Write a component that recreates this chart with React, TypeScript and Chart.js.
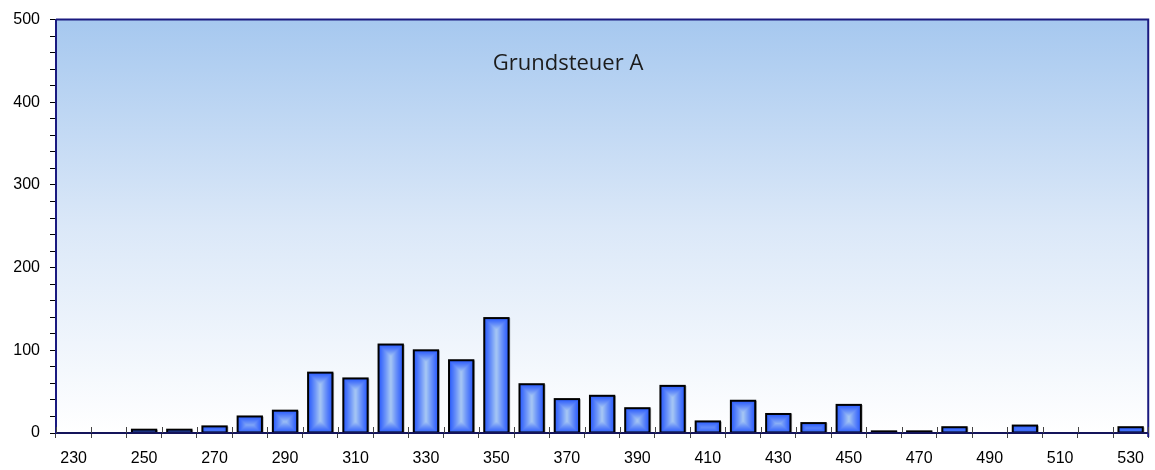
import React, { useEffect, useRef } from "react";
import { Chart, registerables } from "chart.js";

Chart.register(...registerables);

const categories = [
  "230", "240", "250", "260", "270", "280", "290", "300", "310", "320", "330",
  "340", "350", "360", "370", "380", "390", "400", "410", "420", "430", "440",
  "450", "460", "470", "480", "490", "500", "510", "520", "530",
];
const counts = [
  0, 0, 4, 4, 8, 20, 27, 73, 66, 107, 100,
  88, 139, 59, 41, 45, 30, 57, 14, 39, 23, 12,
  34, 2, 2, 7, 0, 9, 0, 0, 7,
];
const yTickValues = [
  0, 20, 40, 60, 80, 100, 120, 140, 160, 180, 200, 220, 240, 260, 280, 300,
  320, 340, 360, 380, 400, 420, 440, 460, 480, 500,
];
const yLabelValues = [0, 100, 200, 300, 400, 500];
const titleText = "Grundsteuer A";

const BAR_PCT = 0.69;
const DARK = [44, 92, 252];
const LIGHT = [168, 200, 244];

function barFill(c: any) {
  const chart = c.chart;
  const xs = chart.scales && chart.scales.x;
  const ys = chart.scales && chart.scales.y;
  const fallback = "rgb(44,92,252)";
  if (!xs || !ys || c.type !== "data") return fallback;
  const v = c.raw;
  if (!v) return fallback;
  const catW = xs.width / categories.length;
  const w = Math.max(2, Math.round(catW * BAR_PCT));
  const cx = xs.getPixelForValue(c.dataIndex);
  const top = ys.getPixelForValue(v);
  const bottom = ys.getPixelForValue(0);
  const h = Math.max(2, Math.round(bottom - top));
  const left = cx - w / 2;
  const off = document.createElement("canvas");
  off.width = w;
  off.height = h;
  const octx = off.getContext("2d")!;
  const img = octx.createImageData(w, h);
  const half = w / 2;
  for (let y = 0; y < h; y++) {
    for (let x = 0; x < w; x++) {
      const dx = Math.min(x + 0.5, w - x - 0.5);
      const dy = Math.min(y + 0.5, h - y - 0.5);
      const d = Math.min(dx, dy);
      let f = Math.min(1, d / half);
      f = Math.pow(f, 1.15);
      const i = (y * w + x) * 4;
      img.data[i] = DARK[0] + (LIGHT[0] - DARK[0]) * f;
      img.data[i + 1] = DARK[1] + (LIGHT[1] - DARK[1]) * f;
      img.data[i + 2] = DARK[2] + (LIGHT[2] - DARK[2]) * f;
      img.data[i + 3] = 255;
    }
  }
  octx.putImageData(img, 0, 0);
  const pat = chart.ctx.createPattern(off, "no-repeat");
  if (!pat) return fallback;
  pat.setTransform(new DOMMatrix([1, 0, 0, 1, left, top]));
  return pat;
}

const backgroundPlugin = {
  id: "plotBackground",
  beforeDraw(chart: any) {
    const { ctx, chartArea } = chart;
    const { left, top, right, bottom } = chartArea;
    const g = ctx.createLinearGradient(0, top, 0, bottom);
    g.addColorStop(0, "#a6c8ef");
    g.addColorStop(0.5, "#dbe8f8");
    g.addColorStop(1, "#ffffff");
    ctx.save();
    ctx.fillStyle = g;
    ctx.fillRect(left, top, right - left, bottom - top);
    ctx.restore();
  },
};

const shadowPlugin = {
  id: "barShadow",
  beforeDatasetsDraw(chart: any) {
    const ctx = chart.ctx;
    ctx.save();
    ctx.shadowColor = "rgba(0,0,0,0.3)";
    ctx.shadowOffsetX = 2;
    ctx.shadowOffsetY = 0;
    ctx.shadowBlur = 1;
  },
  afterDatasetsDraw(chart: any) {
    chart.ctx.restore();
  },
};

// outlines each bar (centered on the bar's edge) using the library's element geometry
const outlinePlugin = {
  id: "barOutline",
  afterDatasetsDraw(chart: any) {
    const ctx = chart.ctx;
    const meta = chart.getDatasetMeta(0);
    ctx.save();
    ctx.strokeStyle = "#000000";
    ctx.lineWidth = 2;
    ctx.lineJoin = "miter";
    meta.data.forEach((el: any, i: number) => {
      if (!counts[i]) return;
      const p = el.getProps(["x", "y", "base", "width"], true);
      const l = p.x - p.width / 2;
      ctx.strokeRect(l, p.y, p.width, p.base - p.y);
    });
    ctx.restore();
  },
};

const framePlugin = {
  id: "frame",
  afterDraw(chart: any) {
    const { ctx, chartArea } = chart;
    const { left, top, right, bottom } = chartArea;
    const xs = chart.scales.x;
    ctx.save();
    ctx.strokeStyle = "#14145a";
    ctx.lineWidth = 2;
    ctx.beginPath();
    ctx.moveTo(left, bottom);
    ctx.lineTo(right, bottom);
    ctx.stroke();
    ctx.strokeStyle = "#1a1a80";
    ctx.beginPath();
    ctx.moveTo(left, top);
    ctx.lineTo(right, top);
    ctx.lineTo(right, bottom + 4);
    ctx.stroke();
    // upward part of x tick marks
    const catW = xs.width / categories.length;
    ctx.strokeStyle = "#444";
    ctx.lineWidth = 1;
    ctx.beginPath();
    for (let i = 0; i <= categories.length; i++) {
      const px = Math.round(xs.getPixelForValue(0) - catW / 2 + i * catW) + 0.5;
      ctx.moveTo(px, bottom);
      ctx.lineTo(px, bottom - 6);
    }
    ctx.stroke();
    // title
    ctx.fillStyle = "#1c1c1c";
    ctx.font = "22px 'Open Sans'";
    ctx.textAlign = "center";
    ctx.textBaseline = "alphabetic";
    ctx.fillText(titleText, 568, 70);
    ctx.restore();
  },
};

export default function App() {
  const ref = useRef<HTMLCanvasElement | null>(null);
  useEffect(() => {
    document.body.style.margin = "0";
    const canvas = ref.current!;
    const chart = new Chart(canvas, {
      type: "bar",
      data: {
        labels: categories,
        datasets: [
          {
            data: counts,
            backgroundColor: barFill as any,
            borderWidth: 0,
            categoryPercentage: 1,
            barPercentage: BAR_PCT,
          },
        ],
      },
      options: {
        animation: false,
        responsive: false,
        layout: { padding: { top: 16, right: 2, left: 0, bottom: 0 } },
        plugins: {
          legend: { display: false },
          tooltip: { enabled: false },
          title: { display: false },
        },
        scales: {
          x: {
            type: "category",
            offset: true,
            grid: {
              display: true,
              drawOnChartArea: false,
              drawTicks: true,
              tickLength: 5,
              color: "#444",
              offset: true,
            },
            border: { display: true, color: "#14145a", width: 2 },
            ticks: {
              autoSkip: false,
              maxRotation: 0,
              minRotation: 0,
              padding: 11,
              color: "#000",
              font: { family: "'Liberation Sans', Arial, sans-serif", size: 16 },
              callback: (_v: any, i: number) => (i % 2 === 0 ? categories[i] : ""),
            },
            afterFit: (s: any) => {
              s.height = 37;
            },
          },
          y: {
            min: 0,
            max: 500,
            grid: {
              display: true,
              drawOnChartArea: false,
              drawTicks: true,
              tickLength: 6,
              color: "#000",
            },
            border: { display: true, color: "#1a1a80", width: 2 },
            ticks: {
              autoSkip: false,
              padding: 10,
              color: "#000",
              font: { family: "'Liberation Sans', Arial, sans-serif", size: 16 },
              callback: (v: any) => (yLabelValues.includes(Number(v)) ? String(v) : ""),
            },
            afterBuildTicks: (s: any) => {
              s.ticks = yTickValues.map((v) => ({ value: v }));
            },
            afterFit: (s: any) => {
              s.width = 56;
            },
          },
        },
      },
      plugins: [backgroundPlugin, shadowPlugin, outlinePlugin, framePlugin],
    });
    return () => chart.destroy();
  }, []);
  return (
    <div style={{ width: 1155, height: 470, background: "#ffffff" }}>
      <canvas ref={ref} width={1155} height={470} style={{ display: "block" }} />
    </div>
  );
}
